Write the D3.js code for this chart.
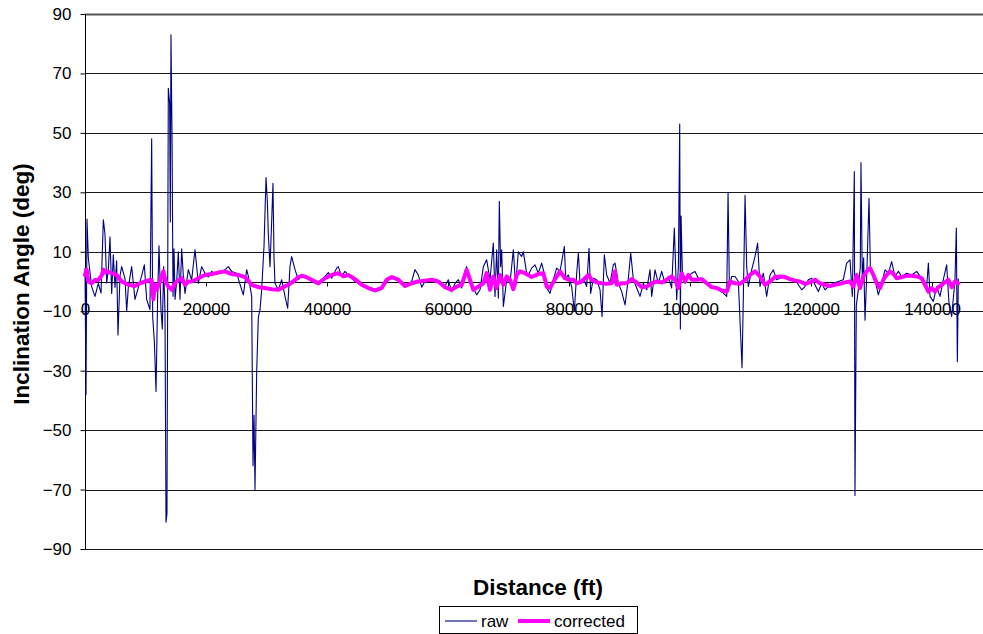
<!DOCTYPE html>
<html>
<head>
<meta charset="utf-8">
<script src="https://cdn.jsdelivr.net/npm/d3@7"></script>
<style>
  html, body { margin: 0; padding: 0; background: #fff; }
  svg { display: block; }
  text { font-family: "Liberation Sans", Arial, sans-serif; fill: #000; }
</style>
</head>
<body>
<div id="chart"></div>
<script>
// Raw inclination readings: distance along run (ft) and angle (deg)
const rawDistance = [
  0,165,330,550,1100,1650,2200,2650,3030,3300,3580,3860,4130,4410,4680,4960,5230,5450,5790,6060,
  6610,6890,7160,7710,8260,8820,9370,9810,10190,10740,11020,11190,11460,11740,12010,12230,12560,12780,13000,13220,
  13390,13550,13770,13990,14100,14210,14380,14550,14710,14880,15150,15430,15700,15980,16250,16530,17080,17630,18180,18730,
  19280,19840,20390,20940,21490,22040,22600,23140,23690,24240,25070,25900,26170,26720,27000,27550,27770,27940,28100,28380,
  28650,28930,29200,29590,29920,30140,30300,30580,30850,31070,31240,31400,31960,32510,33060,33500,33880,34160,34710,35260,
  35810,36360,37460,38560,39670,40220,40770,41600,41870,42420,42970,43520,44630,45730,46830,47930,49030,50140,50960,51790,
  52890,53990,54540,55090,55650,56200,57300,58400,59500,60050,60600,61160,61710,62260,62810,63080,63630,64190,64740,65290,
  65840,66390,66940,67490,67770,68040,68320,68480,68700,68870,69150,69700,70250,70800,71180,71620,72170,72450,73000,73280,
  73830,74380,74930,75480,76040,76310,76860,77410,77960,78520,79230,79450,79890,80440,80880,81270,81550,81820,82370,82920,
  83310,83580,84030,84580,85130,85460,85840,86230,86780,87330,87610,88160,88710,89260,89810,90200,90640,91190,91740,92290,
  92840,93390,93670,94220,94770,95320,95870,96420,96970,97410,97800,98080,98300,98410,98520,98740,99180,99730,100280,100830,
  101380,101940,102480,103040,103590,104140,104690,105510,106070,106290,106510,106890,107440,107990,108600,108820,109100,109370,109640,110190,
  110740,111180,111570,112120,112670,113220,113770,114320,114880,115700,116530,117360,117910,118460,119010,119560,120110,120660,121210,121760,
  122310,122860,123690,124520,125340,125900,126450,126830,127160,127270,127490,127820,128150,128260,128480,128700,128930,129260,129590,129810,
  130030,130580,131130,131680,132230,132780,133330,133880,134440,134990,135810,136640,137470,138290,139120,139400,139670,140220,140770,141320,
  141870,142420,142810,143250,143800,144020,144190,144350
];
const rawAngle = [
  4.5,-38,21,7.9,-1.7,-5,-0.6,-3.9,20.8,16,-0.5,4,15,-4,9,-2,7,-18,2,5,
  1,-10,-2,5,-6,-2,2,5.6,-6,-9.5,48,-12,-20,-37,-5,12,-9.5,-16,5,-10,
  -81,-78,65,60,20,83,50,-5,11,-6,0,10,-6,11,2,-4,4,0.5,10.7,-0.6,
  5,2.8,1.5,3.4,2.5,3.4,3,4,5,3.4,2.8,-2.8,-4.5,4,1.7,-5,-62,-45,-70,-30,
  -12,-9.5,-2.8,12,35,27,16,5,20,33,8,-0.6,-2.8,0.6,-5,-9,5,8.4,4,0.6,
  1.7,2,0,-1.1,1.7,3,1.1,4.5,5,1.7,3.4,2.2,0,-1.1,-2.2,-3.4,-2.6,0.6,1.7,0.6,
  -1.9,0,4,2.2,-1.9,0,0.6,0,-1.5,0.6,-3.4,-0.6,0.6,-2.2,3.4,5,-0.6,-2.2,-4.5,-2.8,
  5,7.3,0.6,12.9,-5,10.7,-5.6,27,5,10.7,-8.4,0.6,-0.6,10.7,-1.7,10,8.4,10,2.8,2.2,
  4.5,5.6,2.8,6.2,1.7,-2.2,-4,0.6,4.5,3.4,11.8,1.1,2.2,-1.7,-10,2.8,9.6,-0.6,1.1,-1.7,
  11.2,-4,1.1,0.6,-2.8,-11.8,9,2.2,-0.6,5.6,6.2,-0.6,-3.4,-7.9,1.1,9.6,0.6,-2.2,-5,-0.6,
  -2.8,3.9,-5,3.9,-0.6,3.4,-0.6,1.7,-2.2,18,-6.1,5,53,-16,22,3.4,-0.6,1.7,2.8,3.4,
  1.1,0.6,-0.6,-1.1,-1.7,-2.2,-2.8,-3.9,-5,30,-2,1.7,1.7,0,-29,-5,29,5,-1.7,3.9,
  8.4,12.9,-1.7,2.8,-5,2.2,3.9,0.6,1.1,1.9,1.1,0.6,-1.1,-2.8,-1.7,0.6,1.1,-1.1,-3.4,-0.6,
  -2.8,-1.7,-0.6,0,0.6,6.2,7.3,-5,37,-72,-8,-2.8,5,40,0.6,8,-13,5,28,5,
  3.9,0.6,-4.5,-0.6,3.9,2.8,6.7,1.7,3.4,1.7,2.8,2.2,3.4,1.1,-1.7,6.2,-5,-6.7,-1.7,-5,
  0.6,5.6,-7.3,-11.8,0.6,18,-27,1
];

// Corrected inclination: distance (ft) and angle (deg)
const corrDistance = [
  0,275,550,1100,1650,2200,2760,3030,3300,3580,4410,5230,6060,7160,8260,9090,9920,10740,11020,11300,
  11570,11850,12400,12950,13340,13770,14330,14770,15150,15980,16530,17080,17630,18180,18730,19840,20940,22040,23140,24240,
  25340,26450,27550,28650,29750,30850,31960,32780,33610,34440,35260,35810,36360,37460,38560,39670,40770,41870,42700,43520,
  44630,45730,46830,47930,49030,49860,50690,51790,52890,53990,55090,56200,57300,58400,59500,60600,61430,62260,62810,63080,
  63630,64190,65010,65840,66390,66940,67490,68040,68590,69150,69700,70250,70800,71350,71900,72730,73830,74930,75760,76310,
  76860,77690,78520,79340,79890,80720,81270,82100,83200,83750,84580,85400,86230,87060,87610,87880,88710,89540,90360,91190,
  92020,92840,93670,94500,95320,96150,96970,97520,98080,98620,99180,99730,100280,101110,101940,102760,103590,104410,105240,106070,
  106620,107440,108270,109100,109920,110740,111570,112400,113220,114050,114880,115700,116530,117360,118180,119010,119830,120660,121490,122310,
  123140,123960,124790,125620,126450,127000,127550,128100,128650,129200,129760,130310,130860,131410,131960,132510,133060,133610,134160,134990,
  135810,136640,137470,138290,138840,139400,139950,140500,141050,141600,142150,142700,143250,143800,144350
];
const corrAngle = [
  2.2,4,0,-0.6,0.5,0.5,2,4,3,3.4,2.8,2.2,0,-1.1,-1.5,-0.6,0,0.5,0.5,-6,
  -1,-2.8,0,3.4,0,-1.7,-2.8,-1,0,1.1,-1.1,0,0,0.5,1.1,2.2,2.5,3,3.4,2.5,
  2.2,1.5,-1.1,-1.9,-2.2,-2.6,-2.8,-1.9,-1.1,0,1.5,1.9,1.7,0.6,-0.6,1.1,2.2,2.8,1.7,2.2,
  0.8,-1.1,-2.2,-3,-2.2,0.6,1.5,0.6,-1.5,-0.6,0,0.3,0.6,0,-1.9,-2.8,-1.7,-1.1,2.2,3.9,
  0.6,-2.8,-1.7,-0.6,2.8,-2.8,1.7,-2.2,2.2,-1.1,1.7,0.6,-2.6,2.2,3.4,2.8,1.5,2.5,2.8,-1.7,
  -2.2,0.8,3.4,1.1,0.6,0.6,-0.6,0,2.2,0.6,-0.3,-0.6,-0.8,-0.6,3.4,-1.1,-0.6,-0.6,0.8,-0.3,
  -1.9,-1.7,-0.6,0,-0.3,0.6,1.7,0.6,-2.2,2.8,0,2.2,0.6,0.6,0.8,-0.6,-1.9,-2.2,-3,-3.4,
  0,-0.6,-0.8,0.5,2.2,3.4,1.7,-1.1,0,1.5,1.7,1.5,0.8,0.3,0,-0.8,-0.3,0.6,-0.6,-1.1,
  -1.5,-1.1,-0.8,-0.3,0,-1.7,2.2,-2.2,1.7,3.4,4.5,2.2,-0.6,-2.2,0.6,2.2,3.4,2.6,1.1,1.5,
  1.9,1.9,1.7,1.1,-1.1,-3.4,-2.2,-3.4,-1.9,-1.1,-0.3,0.6,-1.9,0,-0.6
];

// Axis tick values
const yTickValues = [90, 70, 50, 30, 10, -10, -30, -50, -70, -90];
const xTickValues = [0, 20000, 40000, 60000, 80000, 100000, 120000, 140000];

const seriesNames = ["raw", "corrected"];
const seriesColors = ["#000080", "#FF00FF"];

const W = 983, H = 634;
const svg = d3.select("#chart").append("svg")
  .attr("width", W).attr("height", H)
  .attr("viewBox", `0 0 ${W} ${H}`);

svg.append("rect").attr("width", W).attr("height", H).attr("fill", "#fff");

const x = d3.scaleLinear().domain([0, 150000]).range([85, 85 + 7.5 * 121]);
const y = d3.scaleLinear().domain([-90, 90]).range([549, 14]);
const plotRight = 1000;

// horizontal gridlines
svg.append("g").selectAll("line")
  .data(yTickValues)
  .join("line")
  .attr("x1", 85).attr("x2", plotRight)
  .attr("y1", d => Math.round(y(d)) + 0.5)
  .attr("y2", d => Math.round(y(d)) + 0.5)
  .attr("stroke", d => d === 90 ? "#555" : "#1a1a1a")
  .attr("stroke-width", d => d === 90 ? 2 : 1);

// y axis with outward ticks
const yAxis = d3.axisLeft(y).tickValues(yTickValues).tickSize(5).tickPadding(9);
const gy = svg.append("g").attr("transform", "translate(85.5,0)").call(yAxis);
gy.select(".domain").attr("stroke", "#000").attr("d", `M0,${y(90)}V${y(-90)}`);
gy.selectAll(".tick line").attr("stroke", "#000");
gy.selectAll(".tick text")
  .style("font-family", '"Liberation Sans", Arial, sans-serif')
  .style("font-size", "17px").attr("fill", "#000");

// x axis crossing at zero
const xAxis = d3.axisBottom(x).tickValues(xTickValues).tickSize(4).tickPadding(16)
  .tickFormat(d3.format("d"));
const gx = svg.append("g").attr("transform", `translate(0,${Math.round(y(0)) + 0.5})`).call(xAxis);
gx.select(".domain").attr("stroke", "#000").attr("d", `M85,0H${plotRight}`);
gx.selectAll(".tick line").attr("stroke", "#000");
gx.selectAll(".tick text")
  .style("font-family", '"Liberation Sans", Arial, sans-serif')
  .style("font-size", "17px").attr("fill", "#000");

// series lines
const line = d3.line().x(d => x(d[0])).y(d => y(d[1]));
const rawData = rawDistance.map((d, i) => [d, rawAngle[i]]);
const corrData = corrDistance.map((d, i) => [d, corrAngle[i]]);

svg.append("path").datum(rawData)
  .attr("d", line).attr("fill", "none")
  .attr("stroke", seriesColors[0]).attr("stroke-width", 1.1)
  .attr("stroke-linejoin", "round");

svg.append("path").datum(corrData)
  .attr("d", line).attr("fill", "none")
  .attr("stroke", seriesColors[1]).attr("stroke-width", 4)
  .attr("stroke-linejoin", "round").attr("stroke-linecap", "round");

// axis titles
svg.append("text")
  .attr("x", 538).attr("y", 595)
  .attr("text-anchor", "middle")
  .style("font-size", "22.5px").style("font-weight", "bold")
  .text("Distance (ft)");

svg.append("text")
  .attr("transform", "translate(29,284) rotate(-90)")
  .attr("text-anchor", "middle")
  .style("font-size", "22.5px").style("font-weight", "bold")
  .text("Inclination Angle (deg)");

// legend
const lg = svg.append("g");
lg.append("rect")
  .attr("x", 439.5).attr("y", 606.5).attr("width", 198).attr("height", 27)
  .attr("fill", "#fff").attr("stroke", "#000").attr("stroke-width", 1);
const legendItems = [
  { x1: 445, x2: 477, tx: 481, w: 1.1 },
  { x1: 518, x2: 550, tx: 554, w: 4 }
];
legendItems.forEach((it, i) => {
  lg.append("line")
    .attr("x1", it.x1).attr("x2", it.x2).attr("y1", 621).attr("y2", 621)
    .attr("stroke", seriesColors[i]).attr("stroke-width", it.w);
  lg.append("text")
    .attr("x", it.tx).attr("y", 627)
    .style("font-size", "17px")
    .text(seriesNames[i]);
});
</script>
</body>
</html>
